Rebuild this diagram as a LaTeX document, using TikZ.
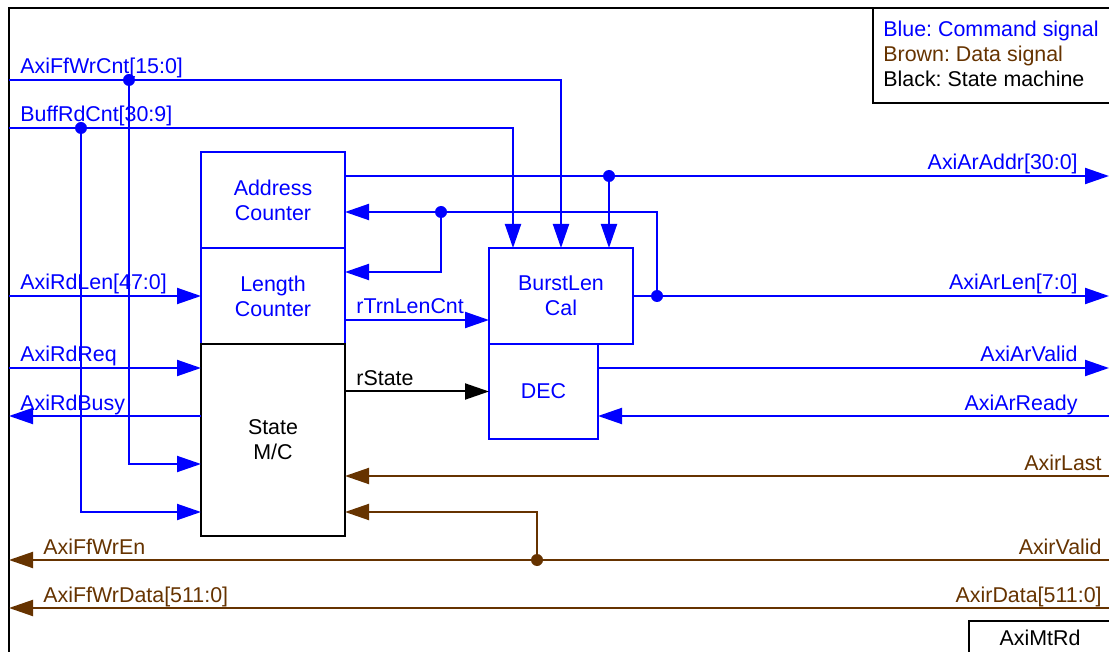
\documentclass[tikz,border=0pt]{standalone}
\usepackage{fontspec}
\setmainfont{Liberation Sans}
\usetikzlibrary{arrows.meta}
\definecolor{cmdblue}{RGB}{0,0,255}
\definecolor{datbrown}{RGB}{102,51,0}
\frenchspacing

\begin{document}
\begin{tikzpicture}[
    x=0.5pt, y=-0.5pt,
    font=\fontsize{10.7}{12.5}\selectfont,
    blk/.style={draw, line width=1pt, inner sep=0pt, outer sep=0pt, align=center,
      minimum width=72pt, minimum height=48pt},
    cmd/.style={cmdblue, line width=1pt},
    dat/.style={datbrown, line width=1pt},
    arr/.style={-{Triangle[length=12pt,width=8pt]}},
    dot/.style={circle, fill, inner sep=0pt, minimum size=6pt},
    lbl/.style={inner sep=0pt, anchor=base west},
    rlbl/.style={inner sep=0pt, anchor=base east},
  ]
  \clip (0,0) rectangle (1109,652);
  % frame, key and block name
  \draw[line width=1.2pt] (9,8) rectangle (1140,690);
  \draw[line width=1pt] (873,8) rectangle (1140,103);
  \node[lbl, cmdblue] (key-cmd) at (883,37) {Blue: Command signal};
  \node[lbl, datbrown] (key-dat) at (883,62) {Brown: Data signal};
  \node[lbl] (key-sm) at (883,87) {Black: State machine};
  \draw[line width=1pt] (969,621) rectangle (1140,690);
  \node (title) at (1040,638) {AxiMtRd};

  % blocks
  \node[blk, cmdblue] (addr) at (273,200) {Address\\Counter};
  \node[blk, cmdblue] (len) at (273,296) {Length\\Counter};
  \node[blk, black, minimum height=96pt] (sm) at (273,440) {State\\M/C};
  \node[blk, cmdblue] (blc) at (561,296) {BurstLen\\Cal};
  \node[blk, cmdblue, minimum width=54.5pt, minimum height=47.5pt, anchor=north west]
    (dec) at (blc.south west) {DEC};

  % port ends
  \coordinate (ffcnt) at (9,80);
  \coordinate (bfcnt) at (9,128);
  \coordinate (rdlen) at (9,296);
  \coordinate (rdreq) at (9,368);
  \coordinate (rdbusy) at (9,416);
  \coordinate (ffwren) at (9,560);
  \coordinate (ffwrdata) at (9,608);
  \coordinate (araddr) at (1109,176);
  \coordinate (arlen) at (1109,296);
  \coordinate (arvalid) at (1109,368);
  \coordinate (arready) at (1109,416);
  \coordinate (rlast) at (1109,476);
  \coordinate (rvalid) at (1109,560);
  \coordinate (rdata) at (1109,608);
  \coordinate (trn) at ([yshift=-12pt]len.east);

  % command signals
  \node[dot, cmdblue] (j-ffcnt) at (129,80) {};
  \node[dot, cmdblue] (j-bfcnt) at (81,128) {};
  \draw[cmd, arr] (ffcnt) -| (blc.north);
  \draw[cmd, arr] (bfcnt) -| ([xshift=12pt]blc.north west);
  \draw[cmd, arr] (j-ffcnt) |- ([yshift=-12pt]sm.west);
  \draw[cmd, arr] (j-bfcnt) |- ([yshift=-36pt]sm.west);
  \draw[cmd, arr] (rdlen) -- (len.west);
  \draw[cmd, arr] (rdreq) -- (rdreq -| sm.west);
  \draw[cmd, arr] (sm.west |- rdbusy) -- (rdbusy);

  \node[dot, cmdblue] (j-addr) at (609,176) {};
  \node[dot, cmdblue] (j-len) at (657,296) {};
  \node[dot, cmdblue] (j-fb) at (441,212) {};
  \draw[cmd, arr] (addr.east |- araddr) -- (araddr);
  \draw[cmd, arr] (j-addr) -- ([xshift=-12pt]blc.north east);
  \draw[cmd, arr] (blc.east) -- (arlen);
  \draw[cmd, arr] (j-len) |- (addr.east |- j-fb);
  \draw[cmd, arr] (j-fb) |- ([yshift=12pt]len.east);
  \draw[cmd, arr] (trn) -- (trn -| blc.west);
  \draw[line width=1pt, arr] (sm.east |- dec.west) -- (dec.west);
  \draw[cmd, arr] (dec.east |- arvalid) -- (arvalid);
  \draw[cmd, arr] (arready) -- (arready -| dec.east);

  % data signals
  \node[dot, datbrown] (j-rvalid) at (537,560) {};
  \draw[dat, arr] (rlast) -- (rlast -| sm.east);
  \draw[dat, arr] (rvalid) -- (ffwren);
  \draw[dat, arr] (j-rvalid) |- ([yshift=-36pt]sm.east);
  \draw[dat, arr] (rdata) -- (ffwrdata);

  % labels
  \node[lbl, cmdblue] (l-ffcnt) at (20,74) {AxiFfWrCnt[15:0]};
  \node[lbl, cmdblue] (l-bfcnt) at (20,122) {BuffRdCnt[30:9]};
  \node[lbl, cmdblue] (l-rdlen) at (20,290) {AxiRdLen[47:0]};
  \node[lbl, cmdblue] (l-rdreq) at (20,362) {AxiRdReq};
  \node[lbl, cmdblue] (l-rdbusy) at (20,410) {AxiRdBusy};
  \node[lbl, datbrown] (l-ffwren) at (43,554) {AxiFfWrEn};
  \node[lbl, datbrown] (l-ffwrdata) at (43,602) {AxiFfWrData[511:0]};
  \node[lbl, cmdblue] (l-trn) at (356,314) {rTrnLenCnt};
  \node[lbl] (l-state) at (356,386) {rState};
  \node[rlbl, cmdblue] (l-araddr) at (1078,170) {AxiArAddr[30:0]};
  \node[rlbl, cmdblue] (l-arlen) at (1078,290) {AxiArLen[7:0]};
  \node[rlbl, cmdblue] (l-arvalid) at (1078,362) {AxiArValid};
  \node[rlbl, cmdblue] (l-arready) at (1078,410) {AxiArReady};
  \node[rlbl, datbrown] (l-rlast) at (1102,470) {AxirLast};
  \node[rlbl, datbrown] (l-rvalid) at (1102,554) {AxirValid};
  \node[rlbl, datbrown] (l-rdata) at (1102,602) {AxirData[511:0]};
\end{tikzpicture}
\end{document}
